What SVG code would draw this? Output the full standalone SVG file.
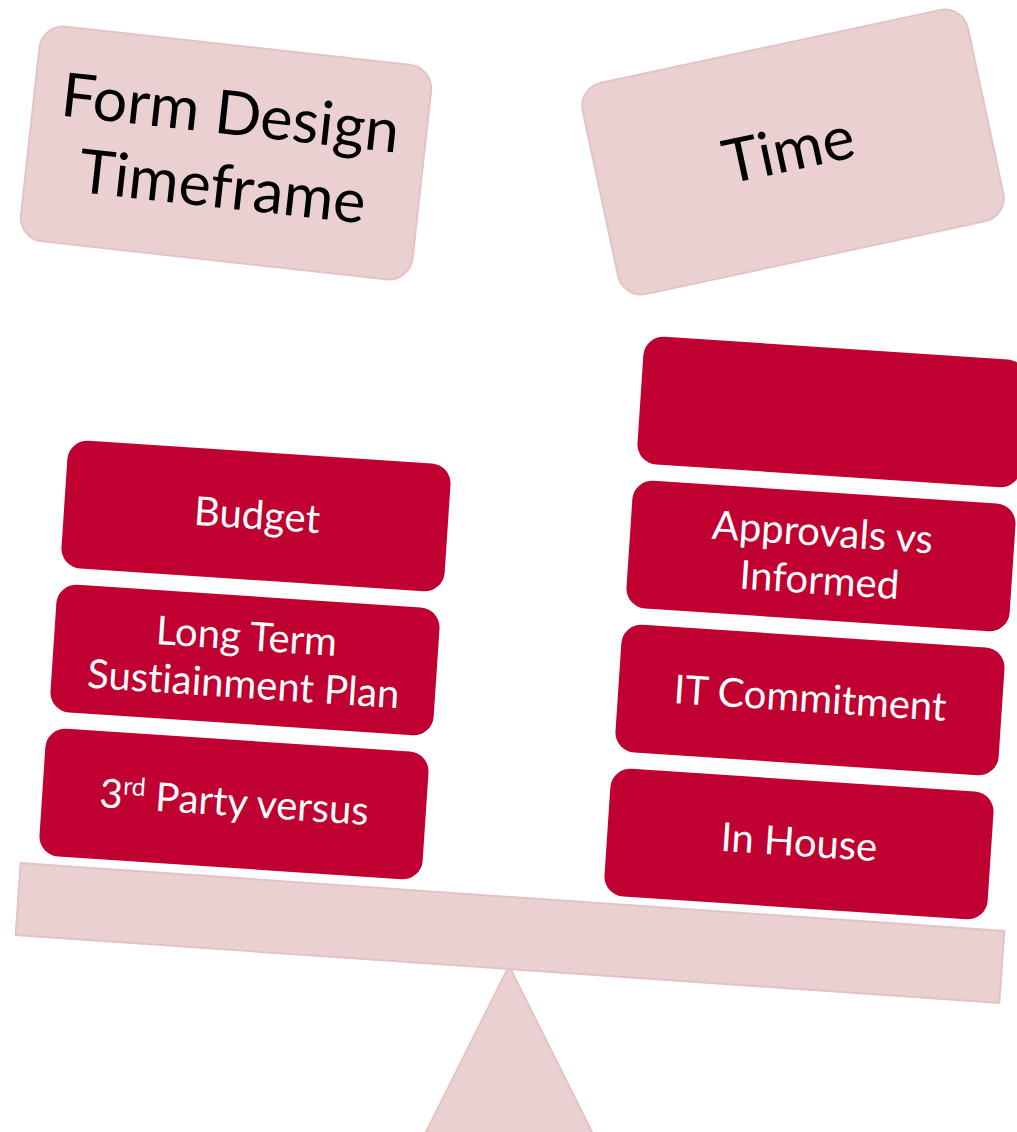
<svg xmlns="http://www.w3.org/2000/svg" width="1017" height="1132" viewBox="0 0 1017 1132">
<style>
.title{fill:#EBD0D2;stroke:#E4C3C6;stroke-width:2}
.item{fill:#C00030}
.pale{fill:#EBD0D2;stroke:#E4C3C6;stroke-width:2}
text{font-variant-ligatures:none;font-feature-settings:"liga" 0,"clig" 0}
.tt{font-family:Lato,"Liberation Sans",sans-serif;font-size:61px;fill:#000;text-anchor:middle}
.it{font-family:Lato,"Liberation Sans",sans-serif;font-size:40px;fill:#fff;text-anchor:middle}
</style>
<rect width="1017" height="1132" fill="#fff"/>
<g id="connectors"/>
<g id="fulcrum">
<polygon class="pale" points="509,966 422,1140 596,1140"/>
</g>
<g id="beam" transform="translate(510,933) rotate(3.95)">
<rect class="pale" x="-493" y="-36" width="986" height="72"/>
</g>
<g id="title-left" transform="translate(226,153) rotate(6.3)">
<rect class="title" x="-197" y="-108" width="394" height="216" rx="24"/>
<text class="tt" x="0" y="-19">Form Design</text>
<text class="tt" x="0" y="55">Timeframe</text>
</g>
<g id="title-right" transform="translate(793,152) rotate(-12.1)">
<rect class="title" x="-197" y="-108" width="394" height="216" rx="24"/>
<text class="tt" x="-4" y="18">Time</text>
</g>
<g id="budget" transform="translate(256,516) rotate(3.8)">
<rect class="item" x="-192" y="-64" width="384" height="128" rx="20"/>
<text class="it" x="1" y="13">Budget</text>
</g>
<g id="long-term" transform="translate(245,660) rotate(3.8)">
<rect class="item" x="-192" y="-64" width="384" height="128" rx="20"/>
<text class="it" x="0" y="-10">Long Term</text>
<text class="it" x="0" y="38">Sustiainment Plan</text>
</g>
<g id="third-party" transform="translate(234,804) rotate(3.8)">
<rect class="item" x="-192" y="-64" width="384" height="128" rx="20"/>
<text class="it" x="0" y="12">3<tspan font-size="25" dy="-14">rd</tspan><tspan dy="14"> Party versus</tspan></text>
</g>
<g id="empty-box" transform="translate(832,412) rotate(3.8)">
<rect class="item" x="-192" y="-64" width="384" height="128" rx="20"/>
</g>
<g id="approvals" transform="translate(821,556) rotate(3.8)">
<rect class="item" x="-192" y="-64" width="384" height="128" rx="20"/>
<text class="it" x="0" y="-10">Approvals vs</text>
<text class="it" x="0" y="38">Informed</text>
</g>
<g id="it-commitment" transform="translate(810,700) rotate(3.8)">
<rect class="item" x="-192" y="-64" width="384" height="128" rx="20"/>
<text class="it" x="0" y="12">IT Commitment</text>
</g>
<g id="in-house" transform="translate(799,844) rotate(3.8)">
<rect class="item" x="-192" y="-64" width="384" height="128" rx="20"/>
<text class="it" x="0" y="12">In House</text>
</g>
</svg>
